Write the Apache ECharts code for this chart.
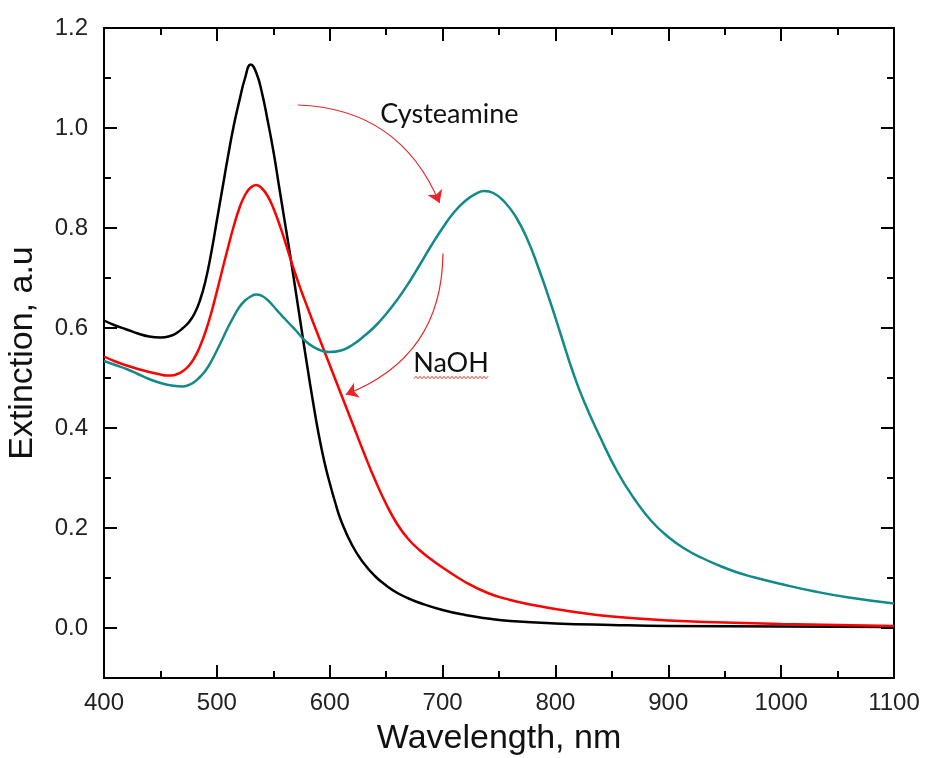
<!DOCTYPE html>
<html>
<head>
<meta charset="utf-8">
<script src="https://cdn.jsdelivr.net/npm/echarts@6/dist/echarts.min.js"></script>
<style>
html,body{margin:0;padding:0;background:#fff;}
#chart{width:927px;height:758px;}
</style>
</head>
<body>
<div id="chart"></div>
<script>
// ---- data ----
const blackWl  = [400,410,420,430,440,450,460,465,470,475,480,485,490,495,500,505,510,515,520,525,530,535,540,545,550,555,560,565,570,575,580,585,590,595,600,605,610,620,630,640,650,660,670,680,700,720,740,760,800,850,900,1000,1100];
const blackVal = [0.615,0.605,0.597,0.589,0.583,0.581,0.585,0.591,0.600,0.611,0.628,0.655,0.695,0.75,0.815,0.88,0.945,1.005,1.055,1.10,1.127,1.11,1.07,1.015,0.955,0.885,0.815,0.745,0.672,0.598,0.525,0.455,0.39,0.335,0.29,0.25,0.215,0.165,0.13,0.104,0.085,0.07,0.059,0.05,0.036,0.026,0.019,0.014,0.009,0.006,0.004,0.003,0.002];

const redWl  = [400,410,420,430,440,450,455,460,465,470,475,480,485,490,495,500,505,510,515,520,525,530,535,540,545,550,555,560,565,570,575,580,585,590,595,600,605,610,620,630,640,650,660,670,680,690,700,720,740,760,780,800,820,850,900,950,1000,1050,1100];
const redVal = [0.543,0.533,0.525,0.518,0.512,0.507,0.505,0.505,0.508,0.514,0.524,0.54,0.563,0.593,0.63,0.673,0.718,0.762,0.804,0.840,0.866,0.881,0.886,0.879,0.864,0.840,0.810,0.776,0.740,0.705,0.673,0.643,0.613,0.584,0.555,0.526,0.497,0.468,0.410,0.352,0.297,0.248,0.207,0.177,0.155,0.137,0.121,0.092,0.07,0.056,0.046,0.038,0.031,0.023,0.015,0.011,0.008,0.006,0.004];

const tealWl  = [400,410,420,430,440,450,460,470,475,480,485,490,495,500,505,510,515,520,525,530,535,540,545,550,555,560,565,570,575,580,585,590,595,600,610,620,630,640,650,660,670,680,690,700,710,720,730,737,745,755,765,775,785,795,805,815,825,840,855,870,885,900,915,930,945,960,975,1000,1030,1060,1100];
const tealVal = [0.534,0.526,0.518,0.508,0.498,0.49,0.485,0.483,0.486,0.492,0.502,0.515,0.533,0.555,0.578,0.602,0.623,0.642,0.655,0.663,0.667,0.664,0.656,0.644,0.631,0.619,0.607,0.595,0.582,0.571,0.563,0.557,0.553,0.552,0.555,0.566,0.583,0.603,0.628,0.657,0.69,0.727,0.765,0.80,0.831,0.854,0.869,0.874,0.870,0.852,0.822,0.778,0.72,0.655,0.585,0.515,0.455,0.38,0.312,0.258,0.214,0.182,0.158,0.14,0.125,0.112,0.102,0.088,0.073,0.061,0.049];

const xTicks = [400,500,600,700,800,900,1000,1100];
const yMajorTicks = [0.0,0.2,0.4,0.6,0.8,1.0,1.2];
const yMinorTicks = [0.1,0.3,0.5,0.7,0.9,1.1];

// annotation anchors (data coordinates)
const cysteamineLabel = {text:'Cysteamine', wl:706, val:1.028};
const naohLabel = {text:'NaOH', wl:707.5, val:0.529};
const arrowCysteamine = [[571.7,1.046],[697.3,0.850]];
const arrowNaOH = [[700.3,0.749],[614.2,0.467]];

// ---- chart ----
const toPairs = (xs, ys) => xs.map((x,i)=>[x, ys[i]]);
const chart = echarts.init(document.getElementById('chart'), null, {renderer:'canvas'});
const FONT = '"Liberation Sans", Arial, sans-serif';
const axisColor = '#000';
const MAJ = 13, MIN = 7;

function xAxisDef(pos, labels){
  return {
    type:'value', position:pos, min:400, max:1100, interval:100,
    axisLine:{show:true, onZero:false, lineStyle:{color:axisColor, width:2}},
    axisTick:{show:true, inside:true, length:MAJ, lineStyle:{color:axisColor, width:2}},
    minorTick:{show:true, splitNumber:2, length:MIN, lineStyle:{color:axisColor, width:2}},
    splitLine:{show:false},
    axisLabel:{show:labels, margin:13, fontSize:24, color:'#222', fontFamily:FONT,
      formatter:(v)=>String(v)},
    name: labels ? 'Wavelength, nm' : '',
    nameLocation:'middle', nameGap:44,
    nameTextStyle:{fontSize:34, color:'#111', fontFamily:FONT}
  };
}
function yAxisDef(pos, ticks, len, labels, name){
  return {
    type:'value', position:pos, min:-0.1, max:1.2,
    axisLine:{show:true, onZero:false, lineStyle:{color:axisColor, width:2}},
    axisTick:{show:true, inside:true, length:len, customValues:ticks, lineStyle:{color:axisColor, width:2}},
    splitLine:{show:false},
    axisLabel:{show:labels, customValues:ticks, margin:16, fontSize:24, color:'#222', fontFamily:FONT,
      formatter:(v)=>Number(v).toFixed(1)},
    name: name || '',
    nameLocation:'middle', nameGap:64,
    nameTextStyle:{fontSize:34, color:'#111', fontFamily:FONT}
  };
}

const lineCommon = {type:'line', showSymbol:false, smooth:0.5, xAxisIndex:0, yAxisIndex:0, clip:true};

const option = {
  animation:false,
  backgroundColor:'#fff',
  grid:{left:104, right:33, top:28, bottom:80, containLabel:false, outerBoundsMode:'none'},
  xAxis:[ xAxisDef('bottom', true), xAxisDef('top', false) ],
  yAxis:[
    yAxisDef('left', yMajorTicks, MAJ, true, 'Extinction, a.u'),
    yAxisDef('left', yMinorTicks, MIN, false),
    yAxisDef('right', yMajorTicks, MAJ, false),
    yAxisDef('right', yMinorTicks, MIN, false)
  ],
  series:[
    Object.assign({}, lineCommon, {name:'black', data:toPairs(blackWl, blackVal), lineStyle:{color:'#000', width:2.5}, itemStyle:{color:'#000'}}),
    Object.assign({}, lineCommon, {name:'red', data:toPairs(redWl, redVal), lineStyle:{color:'#ff0000', width:2.5}, itemStyle:{color:'#ff0000'}}),
    Object.assign({}, lineCommon, {name:'teal', data:toPairs(tealWl, tealVal), lineStyle:{color:'#138a8a', width:2.5}, itemStyle:{color:'#138a8a'},
      markPoint:{
        silent:true, symbol:'circle', symbolSize:0,
        label:{show:true, position:'inside', color:'#111', fontSize:27, fontFamily:'Lato, "Open Sans", sans-serif',
          formatter:(p)=>p.name},
        data:[
          {name:cysteamineLabel.text, coord:[cysteamineLabel.wl, cysteamineLabel.val]},
          {name:naohLabel.text, coord:[naohLabel.wl, naohLabel.val]}
        ]
      }
    }),
    {
      type:'lines', coordinateSystem:'cartesian2d', xAxisIndex:0, yAxisIndex:0, silent:true,
      symbol:['none','arrow'], symbolSize:[10,12],
      effect:{show:false},
      lineStyle:{color:'#e8262a', width:1.2, opacity:1, curveness:0.32},
      data:[
        {coords:arrowCysteamine},
        {coords:arrowNaOH, lineStyle:{curveness:0.34}}
      ],
      z:5
    }
  ]
};
chart.setOption(option);

// spell-check style wavy underline under "NaOH"
(function(){
  const c = chart.convertToPixel({xAxisIndex:0, yAxisIndex:0}, [naohLabel.wl, naohLabel.val]);
  const pts = [];
  const x0 = c[0]-37, x1 = c[0]+37, y = c[1]+14;
  let k = 0;
  for (let x = x0; x <= x1; x += 2) { pts.push([x, y + (k % 2 ? -1.2 : 1.2)]); k++; }
  chart.setOption({graphic:[{type:'polyline', silent:true, shape:{points:pts}, style:{stroke:'#e33', lineWidth:1, fill:null}, z:100}]});
})();
</script>
</body>
</html>
